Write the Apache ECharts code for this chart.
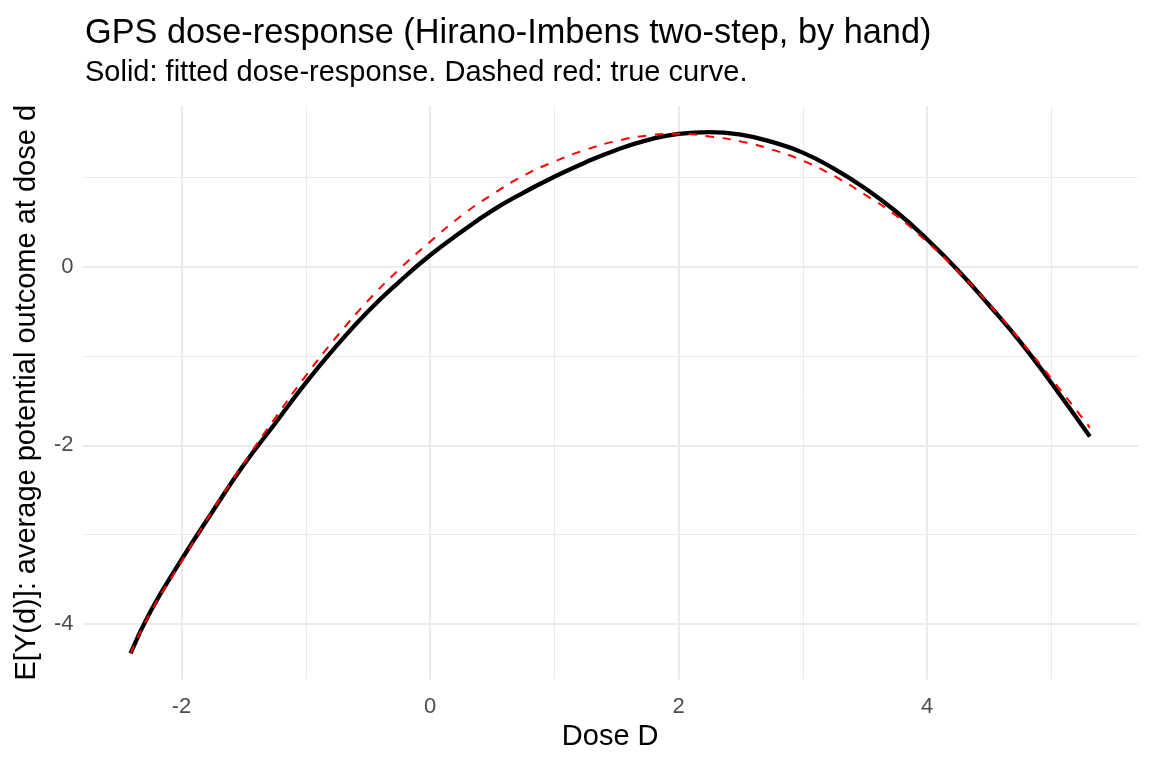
<!DOCTYPE html>
<html>
<head>
<meta charset="utf-8">
<title>GPS dose-response</title>
<script src="https://cdn.jsdelivr.net/npm/echarts@6/dist/echarts.min.js"></script>
<style>
  html, body { margin: 0; padding: 0; background: #fff; }
  #chart { width: 1152px; height: 768px; }
</style>
</head>
<body>
<div id="chart"></div>
<script>
// dose grid (x) and the two curves
const dose = [-2.41, -2.25, -2.0, -1.75, -1.5, -1.25, -1.0, -0.75, -0.5, -0.25,
  0, 0.25, 0.5, 0.75, 1.0, 1.25, 1.5, 1.75, 2.0, 2.25, 2.5, 2.75, 3.0, 3.25,
  3.5, 3.75, 4.0, 4.25, 4.5, 4.75, 5.0, 5.31];
const fitted = [-4.33, -3.86, -3.28, -2.74, -2.22, -1.76, -1.30, -0.88, -0.50, -0.17,
  0.13, 0.39, 0.63, 0.83, 1.01, 1.17, 1.31, 1.42, 1.49, 1.51, 1.48, 1.40, 1.28, 1.10,
  0.88, 0.62, 0.31, -0.04, -0.43, -0.84, -1.30, -1.90];
const trueCurve = [-4.33, -3.87, -3.30, -2.73, -2.20, -1.70, -1.22, -0.78, -0.38, -0.03,
  0.28, 0.57, 0.81, 1.02, 1.18, 1.31, 1.41, 1.47, 1.49, 1.46, 1.405, 1.315, 1.19, 1.02,
  0.81, 0.575, 0.28, -0.05, -0.42, -0.82, -1.25, -1.80];

// axis breaks
const xMajor = [-2, 0, 2, 4];
const xMinor = [-1, 1, 3, 5];
const yMajor = [-4, -2, 0];
const yMinor = [-3, -1, 1];

const FONT = '"Liberation Sans", Arial, sans-serif';

function pairs(xs, ys) {
  return xs.map((x, i) => [x, ys[i]]);
}

// ggplot-like 5% expansion of the data range
function expand(vals) {
  const lo = Math.min(...vals), hi = Math.max(...vals);
  const pad = (hi - lo) * 0.05;
  return [lo - pad, hi + pad];
}

function gridLines(vals, key, width) {
  return vals.map(v => ({ [key]: v, lineStyle: { width: width } }));
}

const [xMin, xMax] = expand(dose);
const [yMin, yMax] = expand(fitted.concat(trueCurve));

const chart = echarts.init(document.getElementById('chart'));
chart.setOption({
  animation: false,
  backgroundColor: '#ffffff',
  title: [
    {
      text: 'GPS dose-response (Hirano-Imbens two-step, by hand)',
      left: 80, top: 12,
      textStyle: { fontFamily: FONT, fontSize: 34.3, fontWeight: 'normal', color: '#000' }
    },
    {
      text: 'Solid: fitted dose-response. Dashed red: true curve.',
      left: 80, top: 53,
      textStyle: { fontFamily: FONT, fontSize: 29, fontWeight: 'normal', color: '#000' }
    }
  ],
  grid: { left: 82.6, right: 14.2, top: 106, bottom: 88.5 },
  xAxis: {
    type: 'value', min: xMin, max: xMax,
    name: 'Dose D', nameLocation: 'middle', nameGap: 41,
    nameTextStyle: { fontFamily: FONT, fontSize: 29, color: '#000' },
    axisLine: { show: false }, axisTick: { show: false }, splitLine: { show: false },
    axisLabel: { customValues: xMajor, margin: 16, fontFamily: FONT, fontSize: 22, color: '#4D4D4D' }
  },
  yAxis: {
    type: 'value', min: yMin, max: yMax,
    name: 'E[Y(d)]: average potential outcome at dose d', nameLocation: 'middle', nameGap: 41,
    nameTextStyle: { fontFamily: FONT, fontSize: 29, color: '#000' },
    axisLine: { show: false }, axisTick: { show: false }, splitLine: { show: false },
    axisLabel: { customValues: yMajor, margin: 9, fontFamily: FONT, fontSize: 22, color: '#4D4D4D' }
  },
  series: [
    {
      // panel grid lines
      type: 'line', data: [], silent: true, z: 1,
      markLine: {
        silent: true, z: 1, animation: false,
        symbol: ['none', 'none'],
        label: { show: false },
        lineStyle: { color: '#EBEBEB', type: 'solid' },
        data: [].concat(
          gridLines(xMinor, 'xAxis', 1),
          gridLines(yMinor, 'yAxis', 1),
          gridLines(xMajor, 'xAxis', 2),
          gridLines(yMajor, 'yAxis', 2)
        )
      }
    },
    {
      name: 'fitted', type: 'line', z: 3,
      data: pairs(dose, fitted),
      smooth: true, showSymbol: false,
      lineStyle: { color: '#000000', width: 4.3 }
    },
    {
      name: 'true', type: 'line', z: 4,
      data: pairs(dose, trueCurve),
      smooth: true, showSymbol: false,
      lineStyle: { color: '#FF0000', width: 2, type: [8.5, 8.5] }
    }
  ]
});
</script>
</body>
</html>
